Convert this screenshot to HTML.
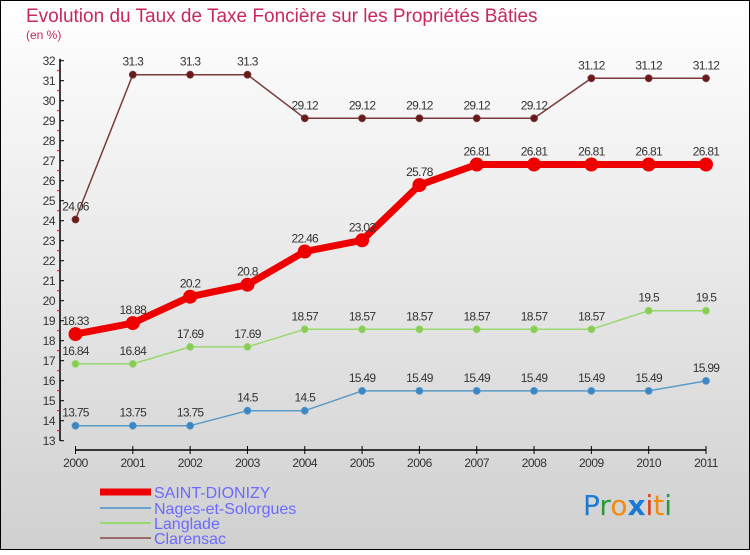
<!DOCTYPE html>
<html><head><meta charset="utf-8"><style>
body{margin:0}
#c{width:750px;height:550px;position:relative;font-family:"Liberation Sans",sans-serif}
</style></head><body>
<div id="c">
<svg id="s" width="750" height="550" xmlns="http://www.w3.org/2000/svg">
<defs><linearGradient id="bg" x1="0" y1="0" x2="0" y2="1"><stop offset="0" stop-color="#ffffff"/><stop offset="1" stop-color="#d0d0d0"/></linearGradient></defs>
<rect x="0.5" y="0.5" width="749" height="549" fill="url(#bg)" stroke="#000"/>
<text x="26" y="22" font-size="19" fill="#c8285a">Evolution du Taux de Taxe Foncière sur les Propriétés Bâties</text>
<text x="26" y="39" font-size="12" fill="#c8285a">(en %)</text>
<g id="axes"></g><g id="series"></g>
<g font-size="16" fill="#6a6aff">
<line x1="100" y1="492" x2="151" y2="492" stroke="#ee0000" stroke-width="7"/>
<text x="154" y="498">SAINT-DIONIZY</text>
<line x1="100" y1="508" x2="151" y2="508" stroke="#6fa3cf" stroke-width="2"/>
<text x="154" y="514">Nages-et-Solorgues</text>
<line x1="100" y1="523" x2="151" y2="523" stroke="#99d870" stroke-width="2"/>
<text x="154" y="529">Langlade</text>
<line x1="100" y1="538" x2="151" y2="538" stroke="#9a6a6a" stroke-width="2"/>
<text x="154" y="544">Clarensac</text>
</g>
<g font-size="28" font-family="'DejaVu Sans',sans-serif">
<text x="583" y="515"><tspan fill="#1a7ad6">P</tspan><tspan fill="#2a9a3a">r</tspan><tspan fill="#f08a10">o</tspan><tspan fill="#1a7ad6" font-weight="bold">x</tspan><tspan fill="#e83a10">i</tspan><tspan fill="#f08a10">t</tspan><tspan fill="#2a9a3a">i</tspan></text>
</g>
</svg>
</div>
<script>
const years=["2000","2001","2002","2003","2004","2005","2006","2007","2008","2009","2010","2011"];
const saint=[18.33,18.88,20.2,20.8,22.46,23.02,25.78,26.81,26.81,26.81,26.81,26.81];
const nages=[13.75,13.75,13.75,14.5,14.5,15.49,15.49,15.49,15.49,15.49,15.49,15.99];
const langlade=[16.84,16.84,17.69,17.69,18.57,18.57,18.57,18.57,18.57,18.57,19.5,19.5];
const clarensac=[24.06,31.3,31.3,31.3,29.12,29.12,29.12,29.12,29.12,31.12,31.12,31.12];
const yTicks=[13,14,15,16,17,18,19,20,21,22,23,24,25,26,27,28,29,30,31,32];
const NS="http://www.w3.org/2000/svg";
const xs=i=>75.5+i*(706-75.5)/11;
const ys=v=>440.7-(v-13)*20;
function mk(tag,attrs,parent,txt){const e=document.createElementNS(NS,tag);for(const k in attrs)e.setAttribute(k,attrs[k]);if(txt!==undefined)e.textContent=txt;parent.appendChild(e);return e;}
const ax=document.getElementById('axes');
let e=mk('line',{x1:60,y1:ys(32)-2,x2:60,y2:ys(13),stroke:'#000','stroke-width':1.5},ax);


yTicks.forEach(t=>{
 const y=ys(t);
 mk('line',{x1:60,y1:y,x2:64,y2:y,stroke:'#000'},ax);
 if(t<32)mk('line',{x1:57,y1:y-10,x2:60,y2:y-10,stroke:'#f00'},ax);
 const tx=mk('text',{x:55,y:y+4.5,'font-size':12,fill:'#333','text-anchor':'end','letter-spacing':'-0.5'},ax,String(t));
 
 
});
e=mk('line',{x1:xs(0),y1:450,x2:xs(11),y2:450,stroke:'#000','stroke-width':1.5},ax);


years.forEach((yr,i)=>{
 mk('line',{x1:xs(i),y1:446,x2:xs(i),y2:454,stroke:'#000'},ax);
 const tx=mk('text',{x:xs(i),y:467,'font-size':12,fill:'#333','text-anchor':'middle','letter-spacing':'-0.5'},ax,yr);
 
 
});
const sg=document.getElementById('series');
function draw(vals,name,color,dot,w,r){
 const g=mk('g',{},sg);
 
 
 const pl=mk('polyline',{points:vals.map((v,i)=>xs(i)+','+ys(v)).join(' '),fill:'none',stroke:color,'stroke-width':w,'stroke-linejoin':'round'},g);
 
 
 vals.forEach((v,i)=>{
  const c=mk('circle',{cx:xs(i),cy:ys(v),r:r,fill:dot,stroke:dot==color?'none':color,'stroke-width':0.8},g);
  
  
  const t=mk('text',{x:xs(i),y:ys(v)-9,'font-size':12,fill:'#333','text-anchor':'middle','letter-spacing':'-0.7'},g,String(v));
  
  
 });
}
draw(nages,'nages','#5a9ac8','#3b86c4',1.5,3.5);
draw(langlade,'langlade','#99d870','#88cc55',1.5,3.5);
draw(clarensac,'clarensac','#7a3a3a','#6a1a1a',1.5,3.5);
draw(saint,'saint-dionizy','#ee0000','#ee0000',7,7);
</script>
</body></html>
